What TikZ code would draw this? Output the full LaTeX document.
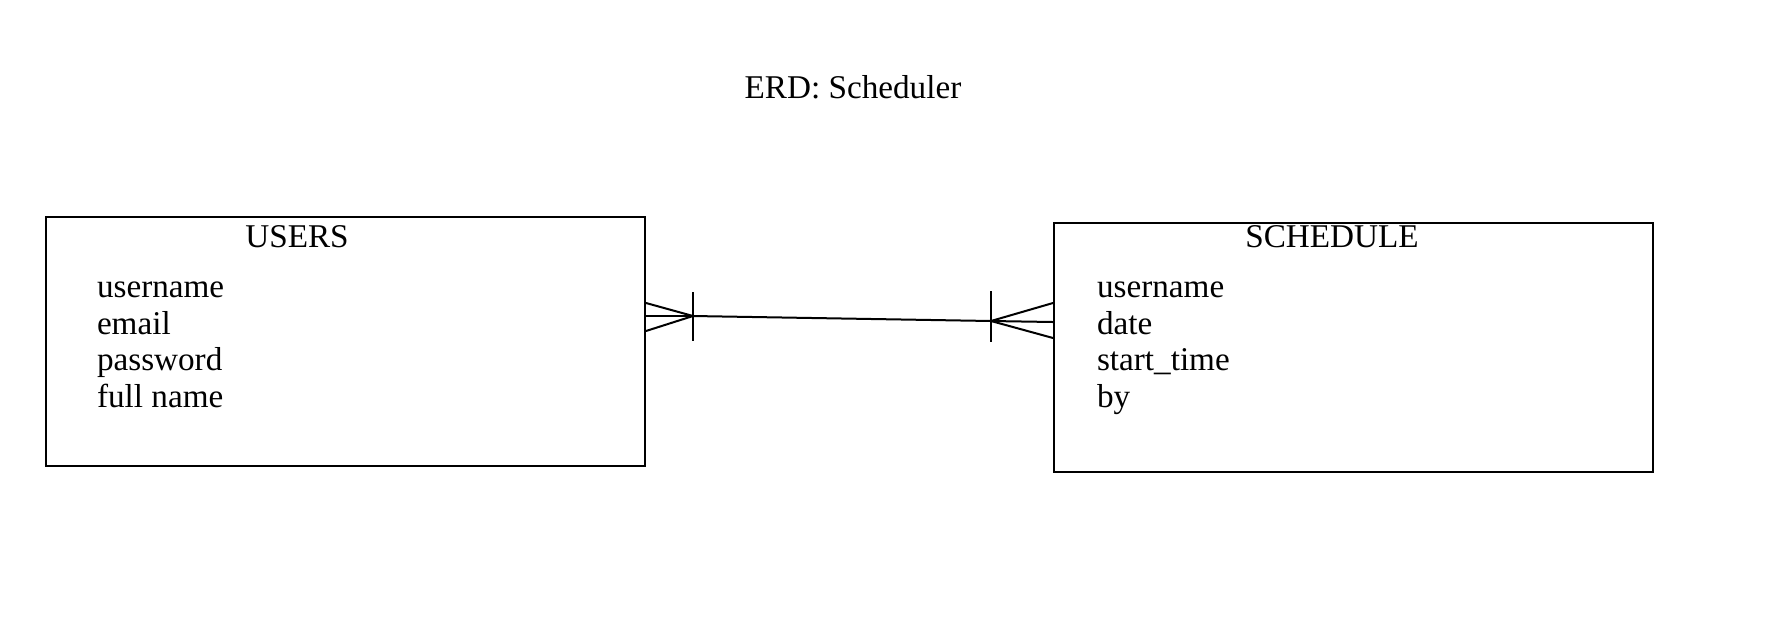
\documentclass[tikz,border=0pt]{standalone}
\usepackage{fontspec}
\setmainfont{Liberation Serif}
\usepackage{tikz}
\tikzset{every picture/.style={line width=1pt}}
\tikzset{
  entity/.style={draw, anchor=north west, inner sep=0pt, minimum width=299.5pt, minimum height=124.5pt},
  label/.style={inner sep=0pt, font=\fontsize{16.6}{19}\selectfont}
}

\begin{document}
\begin{tikzpicture}[x=0.5pt,y=0.5pt,yscale=-1]
\useasboundingbox (0,0) rectangle (1775,638);

% Text Node
\node (title) [label, anchor=base] at (853,98) {ERD: Scheduler};

%Shape: Rectangle
\node (users) [entity] at (45,216) {};
%Shape: Rectangle
\node (schedule) [entity] at (1053,222) {};

% Text Node
\node (usershead) [label, anchor=base] at (297,247) {USERS};
\node (u1) [label, anchor=base west] at (96,297) {username};
\node (u2) [label, anchor=base west] at (96,334) {email};
\node (u3) [label, anchor=base west] at (96,370) {password};
\node (u4) [label, anchor=base west] at (96,407) {full name};

% Text Node
\node (schedhead) [label, anchor=base] at (1332,247) {SCHEDULE};
\node (s1) [label, anchor=base west] at (1096,297) {username};
\node (s2) [label, anchor=base west] at (1096,334) {date};
\node (s3) [label, anchor=base west] at (1096,370) {start\_time};
\node (s4) [label, anchor=base west] at (1096,407) {by};

%Straight Lines
\coordinate (ufoot) at (693,316);
\coordinate (sfoot) at (991,321);
\draw (ufoot) -- (sfoot);

% crow's foot at USERS
\draw (users.east |- 0,303) -- (ufoot) -- (users.east |- 0,331);
\draw (users.east |- ufoot) -- (ufoot);
\draw (693,292) -- (693,341);

% crow's foot at SCHEDULE
\draw (schedule.west |- 0,303) -- (sfoot) -- (schedule.west |- 0,338);
\draw (schedule.west |- 0,322) -- (sfoot);
\draw (991,291) -- (991,342);

\end{tikzpicture}
\end{document}
